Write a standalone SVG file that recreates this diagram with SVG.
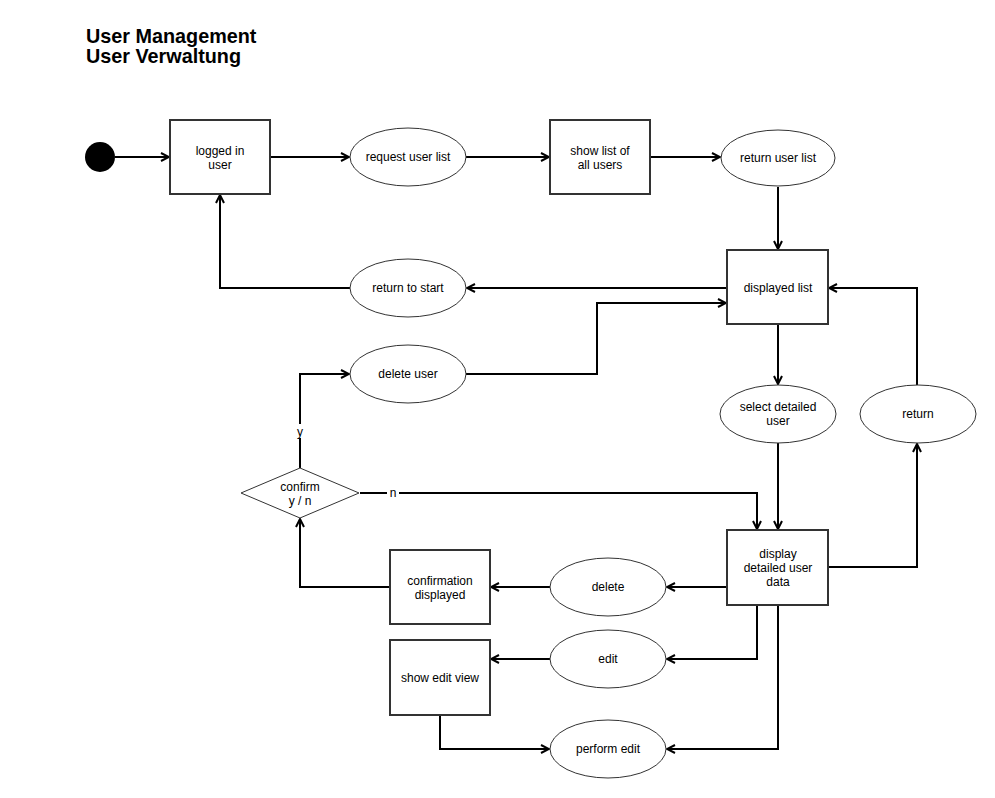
<svg xmlns="http://www.w3.org/2000/svg" width="995" height="798" viewBox="0 0 995 798">
<style>
.box{fill:#fff;stroke:#333;stroke-width:2}
.ell{fill:#fff;stroke:#333;stroke-width:1}
.t{font-family:"Liberation Sans",Arial,sans-serif;font-size:12px;fill:#000;text-anchor:middle}
.title{font-family:"Liberation Sans",Arial,sans-serif;font-size:19.8px;font-weight:bold;fill:#000}
.c{fill:none;stroke:#000;stroke-width:2}
</style>
<defs>
<marker id="a" viewBox="0 0 10 10" refX="9" refY="5" markerWidth="10" markerHeight="10" markerUnits="userSpaceOnUse" orient="auto">
<path d="M1,1 L9,5 L1,9" fill="none" stroke="#000" stroke-width="2"/>
</marker>
</defs>
<rect width="995" height="798" fill="#fff"/>
<text class="title" x="86" y="43">User Management</text>
<text class="title" x="86" y="63">User Verwaltung</text>

<g id="connectors">
<path class="c" d="M115,157 H169" marker-end="url(#a)"/>
<path class="c" d="M270,157 H349" marker-end="url(#a)"/>
<path class="c" d="M466,157 H549" marker-end="url(#a)"/>
<path class="c" d="M650,157 H720" marker-end="url(#a)"/>
<path class="c" d="M778,187 V249" marker-end="url(#a)"/>
<path class="c" d="M727,288 H467" marker-end="url(#a)"/>
<path class="c" d="M350,288 H220 V195" marker-end="url(#a)"/>
<path class="c" d="M466,374 H597 V303 H726" marker-end="url(#a)"/>
<path class="c" d="M778,324 V384" marker-end="url(#a)"/>
<path class="c" d="M917,385 V288 H829" marker-end="url(#a)"/>
<path class="c" d="M778,443 V529" marker-end="url(#a)"/>
<path class="c" d="M360,493 H757 V529" marker-end="url(#a)"/>
<path class="c" d="M828,567 H917 V444" marker-end="url(#a)"/>
<path class="c" d="M300,468 V374 H349" marker-end="url(#a)"/>
<path class="c" d="M727,587 H667" marker-end="url(#a)"/>
<path class="c" d="M550,587 H491" marker-end="url(#a)"/>
<path class="c" d="M390,587 H300 V519" marker-end="url(#a)"/>
<path class="c" d="M757,605 V659 H667" marker-end="url(#a)"/>
<path class="c" d="M550,659 H491" marker-end="url(#a)"/>
<path class="c" d="M778,605 V749 H667" marker-end="url(#a)"/>
<path class="c" d="M440,715 V749 H549" marker-end="url(#a)"/>
<rect x="293" y="424" width="14" height="14" fill="#fff"/>
<text class="t" x="300" y="436">y</text>
<rect x="387" y="486" width="12" height="14" fill="#fff"/>
<text class="t" x="393" y="497">n</text>
</g>

<g id="start"><circle cx="100" cy="157" r="15" fill="#000"/></g>

<g id="logged-in-user">
<rect class="box" x="170" y="120" width="100" height="74"/>
<text class="t" x="220" y="155">logged in</text>
<text class="t" x="220" y="169">user</text>
</g>

<g id="request-user-list">
<ellipse class="ell" cx="408" cy="157" rx="58" ry="29"/>
<text class="t" x="408" y="161">request user list</text>
</g>

<g id="show-list">
<rect class="box" x="550" y="120" width="100" height="74"/>
<text class="t" x="600" y="155">show list of</text>
<text class="t" x="600" y="169">all users</text>
</g>

<g id="return-user-list">
<ellipse class="ell" cx="778" cy="158" rx="57" ry="28"/>
<text class="t" x="778" y="162">return user list</text>
</g>

<g id="displayed-list">
<rect class="box" x="727" y="250" width="101" height="74"/>
<text class="t" x="778" y="292">displayed list</text>
</g>

<g id="return-to-start">
<ellipse class="ell" cx="408" cy="288" rx="58" ry="29"/>
<text class="t" x="408" y="292">return to start</text>
</g>

<g id="delete-user">
<ellipse class="ell" cx="408" cy="374" rx="58" ry="29"/>
<text class="t" x="408" y="378">delete user</text>
</g>

<g id="select-detailed-user">
<ellipse class="ell" cx="778" cy="414" rx="58" ry="29"/>
<text class="t" x="778" y="411">select detailed</text>
<text class="t" x="778" y="425">user</text>
</g>

<g id="return">
<ellipse class="ell" cx="918" cy="414" rx="58" ry="29"/>
<text class="t" x="918" y="418">return</text>
</g>

<g id="confirm">
<polygon class="ell" points="241,493 300,468 359,493 300,518"/>
<text class="t" x="300" y="491">confirm</text>
<text class="t" x="300" y="505">y / n</text>
</g>

<g id="display-detailed">
<rect class="box" x="727" y="530" width="101" height="75"/>
<text class="t" x="778" y="558">display</text>
<text class="t" x="778" y="572">detailed user</text>
<text class="t" x="778" y="586">data</text>
</g>

<g id="confirmation-displayed">
<rect class="box" x="390" y="550" width="100" height="74"/>
<text class="t" x="440" y="585">confirmation</text>
<text class="t" x="440" y="599">displayed</text>
</g>

<g id="delete">
<ellipse class="ell" cx="608" cy="587" rx="58" ry="29"/>
<text class="t" x="608" y="591">delete</text>
</g>

<g id="edit">
<ellipse class="ell" cx="608" cy="659" rx="58" ry="29"/>
<text class="t" x="608" y="663">edit</text>
</g>

<g id="show-edit-view">
<rect class="box" x="390" y="640" width="100" height="75"/>
<text class="t" x="440" y="682">show edit view</text>
</g>

<g id="perform-edit">
<ellipse class="ell" cx="608" cy="749" rx="58" ry="29"/>
<text class="t" x="608" y="753">perform edit</text>
</g>
</svg>
